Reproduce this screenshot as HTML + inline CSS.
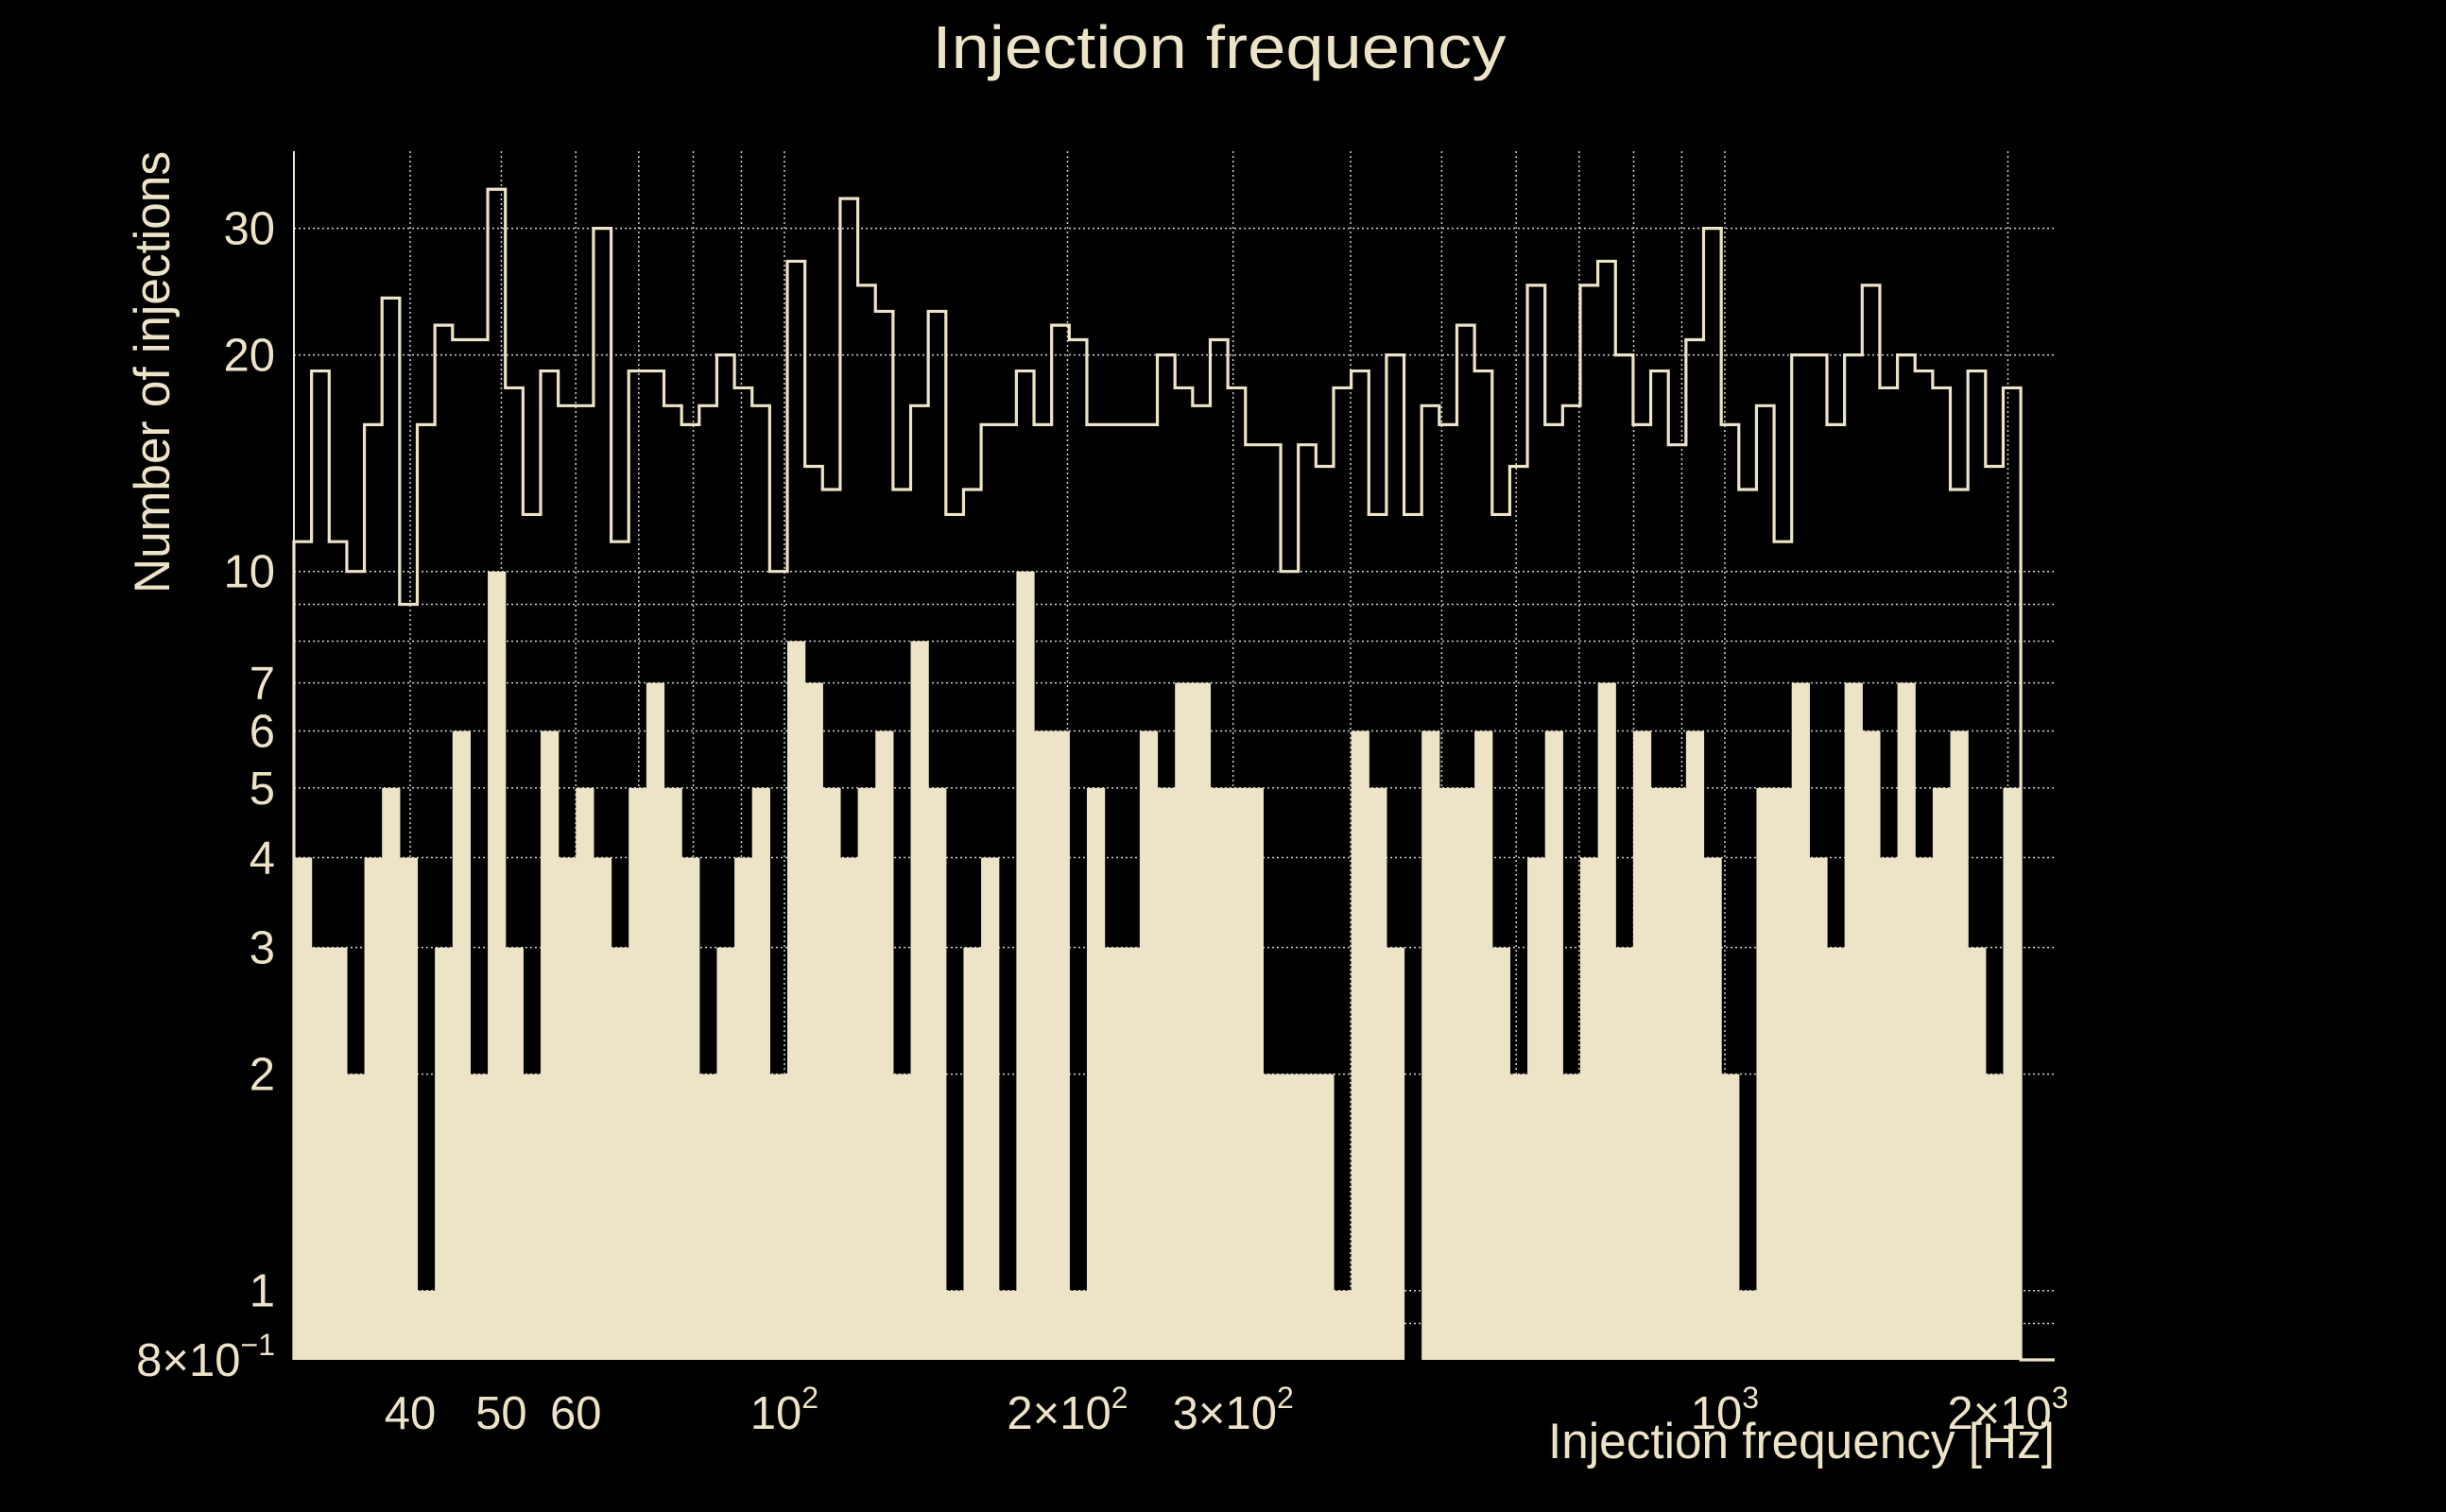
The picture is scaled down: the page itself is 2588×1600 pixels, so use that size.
<!DOCTYPE html>
<html>
<head>
<meta charset="utf-8">
<style>
html,body{margin:0;padding:0;background:#000;}
svg{display:block;}
text{font-family:"Liberation Sans",sans-serif;fill:#EDE3C7;}
</style>
</head>
<body>
<svg id="chart" width="2588" height="1600" viewBox="0 0 2588 1600" xmlns="http://www.w3.org/2000/svg">
  <rect x="0" y="0" width="2588" height="1600" fill="#000"/>
  <g id="grid"></g>
  <g id="fill-hist"></g>
  <g id="outline-hist"></g>
  <g id="axes"></g>
  <g id="yticks"></g>
  <g id="xticks"></g>
  <text x="1290" y="72" font-size="64" text-anchor="middle" textLength="607" lengthAdjust="spacingAndGlyphs">Injection frequency</text>
  <text x="2174" y="1543" font-size="53" text-anchor="end" textLength="536" lengthAdjust="spacingAndGlyphs">Injection frequency [Hz]</text>
  <text transform="translate(179,160) rotate(-90)" x="0" y="0" font-size="53" text-anchor="end" textLength="468" lengthAdjust="spacingAndGlyphs">Number of injections</text>
</svg>
<script>
// ---- data ----
const binCount = 98;
const freqLow = 30.09;
const freqHigh = 2064;
const foundCounts = [4,3,3,2,4,5,4,1,3,6,2,10,3,2,6,4,5,4,3,5,7,5,4,2,3,
  4,5,2,8,7,5,4,5,6,2,8,5,1,3,4,1,10,6,6,1,5,3,3,6,5,
  7,7,5,5,5,2,2,2,2,1,6,5,3,0,6,5,5,6,3,2,4,6,2,4,7,
  3,6,5,5,6,4,2,1,5,5,7,4,3,7,6,4,7,4,5,6,3,2,5];
const allCounts = [11,19,11,10,16,24,9,16,22,21,21,34,18,12,19,17,17,30,11,19,19,17,16,17,20,
  18,17,10,27,14,13,33,25,23,13,17,23,12,13,16,16,19,16,22,21,16,16,16,16,20,
  18,17,21,18,15,15,10,15,14,18,19,12,20,12,17,16,22,19,12,14,25,16,17,25,27,
  20,16,19,15,21,30,16,13,17,11,20,20,16,20,25,18,20,19,18,13,19,14,18];
const yTickValues = [30,20,10,7,6,5,4,3,2,1];
const yGridValues = [30,20,10,9,8,7,6,5,4,3,2,1,0.9];
const xGridValues = [40,50,60,70,80,90,100,200,300,400,500,600,700,800,900,1000,2000];
const xTickValues = [40,50,60,100,200,300,1000,2000];
const xTickMantissa = ['40','50','60','','2×','3×','','2×'];
const xTickExponent = ['','','','2','2','2','3','3'];

// ---- axes ----
const NS = 'http://www.w3.org/2000/svg';
const plotL = 311, plotR = 2174, plotT = 160, plotB = 1439;
const yMin = 0.8;
function xScale(f){ return 434 + (Math.log10(f) - Math.log10(40)) * 995; }
function yScale(v){ if (v <= yMin) return plotB; return 1365.7 - Math.log10(v) * 761; }
const col = '#EDE3C7';
function mk(tag, attrs){ const e = document.createElementNS(NS, tag); for (const k in attrs) e.setAttribute(k, attrs[k]); return e; }

const grid = document.getElementById('grid');
yGridValues.forEach(v => {
  const y = yScale(v);
  const l = mk('line', {x1: plotL, x2: plotR, y1: y, y2: y, stroke: '#cfcfcf', 'stroke-width': 1.5, 'stroke-dasharray': '2 3'});
  
  
  grid.appendChild(l);
});
xGridValues.forEach(f => {
  const x = xScale(f);
  const l = mk('line', {x1: x, x2: x, y1: plotT, y2: plotB, stroke: '#cfcfcf', 'stroke-width': 1.5, 'stroke-dasharray': '2 3'});
  
  
  grid.appendChild(l);
});

// bin edges
const edges = [];
for (let i = 0; i <= binCount; i++) {
  edges.push(Math.pow(10, Math.log10(freqLow) + (Math.log10(freqHigh) - Math.log10(freqLow)) * i / binCount));
}

// filled histogram
const fillG = document.getElementById('fill-hist');
foundCounts.forEach((v, i) => {
  if (v <= 0) return;
  const x0 = xScale(edges[i]), x1 = xScale(edges[i+1]);
  const y = yScale(v);
  const r = mk('rect', {x: x0, y: y, width: x1 - x0 + 0.6, height: plotB - y, fill: col});
  
  
  fillG.appendChild(r);
});

// outline histogram
const outG = document.getElementById('outline-hist');
let d = 'M' + xScale(edges[0]) + ',' + plotB;
allCounts.forEach((v, i) => {
  const y = yScale(v);
  d += ' L' + xScale(edges[i]) + ',' + y + ' L' + xScale(edges[i+1]) + ',' + y;
});
d += ' L' + xScale(edges[binCount]) + ',' + plotB + ' L' + plotR + ',' + plotB;
const p = mk('path', {d: d, fill: 'none', stroke: col, 'stroke-width': 3.2, 'stroke-linejoin': 'miter'});


outG.appendChild(p);

// axes lines
const axes = document.getElementById('axes');
const ya = mk('line', {x1: plotL, x2: plotL, y1: plotT, y2: plotB, stroke: col, 'stroke-width': 2});


axes.appendChild(ya);

// y tick labels
const yt = document.getElementById('yticks');
yTickValues.forEach(v => {
  const t = mk('text', {x: 291, y: yScale(v) + 17, 'font-size': 49, 'text-anchor': 'end'});
  t.textContent = String(v);
  
  
  yt.appendChild(t);
});
(function(){
  const t = mk('text', {x: 291, y: 1456, 'font-size': 49, 'text-anchor': 'end'});
  
  
  const a = mk('tspan', {}); a.textContent = '8×10';
  const b = mk('tspan', {dy: -22, 'font-size': 32}); b.textContent = '−1';
  t.appendChild(a); t.appendChild(b);
  yt.appendChild(t);
})();

// x tick labels
const xt = document.getElementById('xticks');
xTickValues.forEach((f, i) => {
  const t = mk('text', {x: xScale(f), y: 1512, 'font-size': 49, 'text-anchor': 'middle'});
  
  
  if (xTickExponent[i] === '') {
    t.textContent = xTickMantissa[i];
  } else {
    const a = mk('tspan', {}); a.textContent = xTickMantissa[i] + '10';
    const b = mk('tspan', {dy: -22, 'font-size': 32}); b.textContent = xTickExponent[i];
    t.appendChild(a); t.appendChild(b);
  }
  xt.appendChild(t);
});
</script>
</body>
</html>
